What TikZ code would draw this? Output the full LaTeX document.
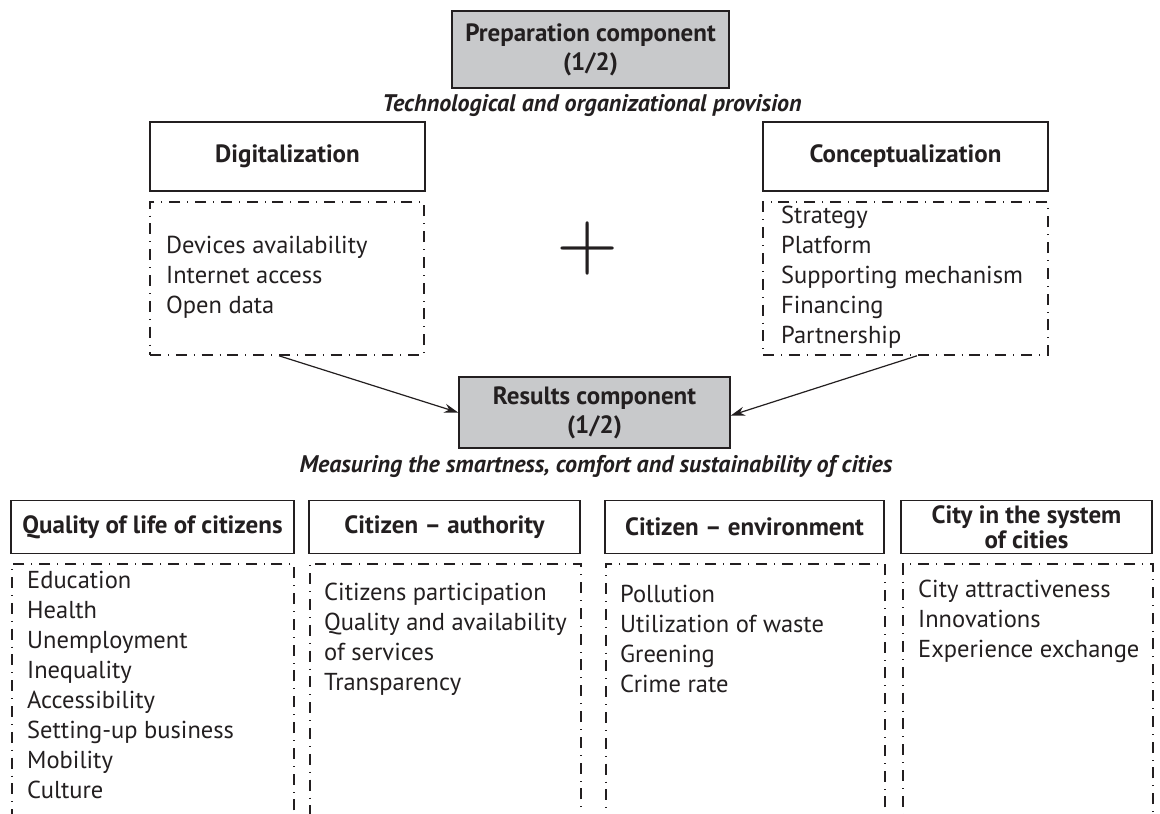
\documentclass[tikz,border=0pt]{standalone}
\usepackage{fontspec}
\setmainfont{PT Sans}
\usetikzlibrary{arrows.meta}
\definecolor{ink}{HTML}{231F20}
\definecolor{boxgray}{HTML}{C8C9CB}
\begin{document}
\begin{tikzpicture}[x=1pt,y=-1pt,
  solidbox/.style={draw=ink, line width=1.6pt, inner sep=0pt, align=center,
    font=\fontsize{25}{29}\selectfont\bfseries, text=ink},
  graybox/.style={solidbox, fill=boxgray},
  dashbox/.style={draw=ink, line width=1.6pt, inner sep=0pt,
    dash pattern=on 11pt off 7pt on 0.8pt off 7pt},
  item/.style={anchor=base west, font=\fontsize{24.5}{28}\selectfont, text=ink, inner sep=0pt},
  caption/.style={font=\fontsize{24}{28}\selectfont\bfseries\itshape, text=ink, inner sep=0pt},
  arr/.style={draw=ink, line width=1.2pt, -{Stealth[length=14pt,width=9pt]}}
]
\clip (0,0) rectangle (1160,814);
\fill[white] (0,0) rectangle (1160,814);

% top
\node[graybox, minimum width=277pt, minimum height=77pt] (prep) at (590.5,49.5) {Preparation component\\(1/2)};
\node[caption] (tech) at (592,106) {Technological and organizational provision};

\node[solidbox, minimum width=275pt, minimum height=69pt] (dighead) at (287.5,156.5) {Digitalization};
\node[solidbox, minimum width=285pt, minimum height=69pt] (conhead) at (905.5,156.5) {Conceptualization};

\node[dashbox, minimum width=274pt, minimum height=153pt] (dig) at (287,278.5) {};
\node[dashbox, minimum width=285pt, minimum height=153pt] (con) at (905.5,278.5) {};

\node[item] (d1) at (166,253) {Devices availability};
\node[item] (d2) at (166,283) {Internet access};
\node[item] (d3) at (166,313) {Open data};

\node[item] (c1) at (781,223) {Strategy};
\node[item] (c2) at (781,253) {Platform};
\node[item] (c3) at (781,283) {Supporting mechanism};
\node[item] (c4) at (781,313) {Financing};
\node[item] (c5) at (781,343) {Partnership};

\node[text=ink, inner sep=0pt] (plus) at (588,248) {\scalebox{8}{$+$}};

\node[graybox, minimum width=271pt, minimum height=71pt] (res) at (594.5,412.5) {Results component\\(1/2)};

\draw[arr] ([xshift=-8pt]dig.south) -- (res.west);
\draw[arr] ([xshift=11.5pt]con.south) -- ([yshift=-3pt]res.east);

\node[caption] (meas) at (596,466) {Measuring the smartness, comfort and sustainability of cities};

% bottom headers
\node[solidbox, minimum width=283pt, minimum height=53pt] (h1) at (152.5,527) {Quality of life of citizens};
\node[solidbox, minimum width=271pt, minimum height=53pt] (h2) at (444.5,527) {Citizen -- authority};
\node[solidbox, minimum width=279pt, minimum height=53pt] (h3) at (744.5,527) {Citizen -- environment};
\node[solidbox, minimum width=251pt, minimum height=53pt, font=\fontsize{25}{25}\selectfont\bfseries] (h4) at (1026.5,527) {City in the system\\of cities};

% bottom dashed boxes (extend below the page)
\node[dashbox, minimum width=282pt, minimum height=300pt, anchor=north west] (b1) at (11,563) {};
\node[dashbox, minimum width=271pt, minimum height=300pt, anchor=north west] (b2) at (309,563) {};
\node[dashbox, minimum width=279pt, minimum height=300pt, anchor=north west] (b3) at (605,563) {};
\node[dashbox, minimum width=250pt, minimum height=300pt, anchor=north west] (b4) at (902,563) {};

\node[item] (e1) at (27,588) {Education};
\node[item] (e2) at (27,618) {Health};
\node[item] (e3) at (27,648) {Unemployment};
\node[item] (e4) at (27,678) {Inequality};
\node[item] (e5) at (27,708) {Accessibility};
\node[item] (e6) at (27,738) {Setting-up business};
\node[item] (e7) at (27,768) {Mobility};
\node[item] (e8) at (27,798) {Culture};

\node[item] (a1) at (324,600) {Citizens participation};
\node[item] (a2) at (324,630) {Quality and availability};
\node[item] (a3) at (324,660) {of services};
\node[item] (a4) at (324,690) {Transparency};

\node[item] (n1) at (620,602) {Pollution};
\node[item] (n2) at (620,632) {Utilization of waste};
\node[item] (n3) at (620,662) {Greening};
\node[item] (n4) at (620,692) {Crime rate};

\node[item] (s1) at (918,597) {City attractiveness};
\node[item] (s2) at (918,627) {Innovations};
\node[item] (s3) at (918,657) {Experience exchange};
\end{tikzpicture}
\end{document}
